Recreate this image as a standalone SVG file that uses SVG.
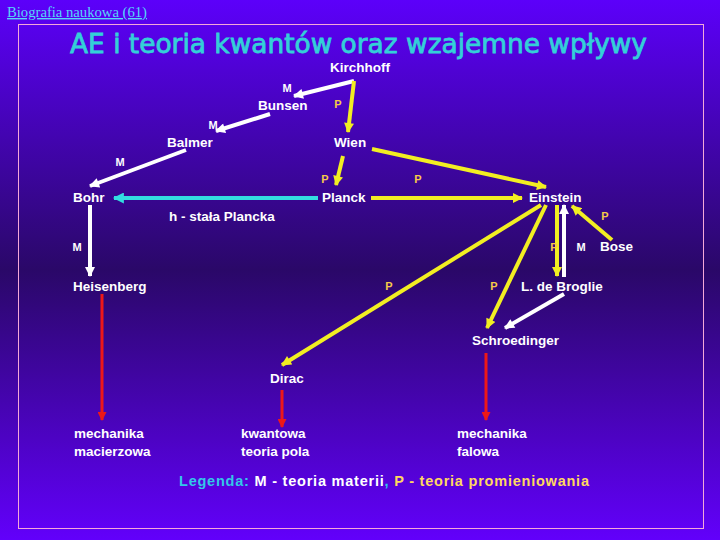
<svg xmlns="http://www.w3.org/2000/svg" width="720" height="540" viewBox="0 0 720 540">
<defs>
<linearGradient id="bg" x1="0" y1="0" x2="0" y2="1">
<stop offset="0" stop-color="#5c00fa"/>
<stop offset="0.5" stop-color="#2a0868"/>
<stop offset="1" stop-color="#6200fb"/>
</linearGradient>
<marker id="aw" viewBox="0 0 10 10" refX="9" refY="5" markerWidth="11" markerHeight="10" markerUnits="userSpaceOnUse" orient="auto"><path d="M0,0 L10,5 L0,10 z" fill="#ffffff"/></marker>
<marker id="ay" viewBox="0 0 10 10" refX="9" refY="5" markerWidth="11" markerHeight="10" markerUnits="userSpaceOnUse" orient="auto"><path d="M0,0 L10,5 L0,10 z" fill="#f2ee22"/></marker>
<marker id="ac" viewBox="0 0 10 10" refX="9" refY="5" markerWidth="12" markerHeight="11" markerUnits="userSpaceOnUse" orient="auto"><path d="M0,0 L10,5 L0,10 z" fill="#33dde0"/></marker>
<marker id="ar" viewBox="0 0 10 10" refX="9" refY="5" markerWidth="11" markerHeight="9" markerUnits="userSpaceOnUse" orient="auto"><path d="M0,0 L10,5 L0,10 z" fill="#ee1818"/></marker>
<style>
.n{font-family:"Liberation Sans",Arial,sans-serif;font-weight:bold;font-size:13.5px;fill:#ffffff}
.m{font-family:"Liberation Sans",Arial,sans-serif;font-weight:bold;font-size:11px;fill:#ffffff}
.p{font-family:"Liberation Sans",Arial,sans-serif;font-weight:bold;font-size:11px;fill:#f8c848}
.w{stroke:#ffffff;stroke-width:4;fill:none;marker-end:url(#aw)}
.y{stroke:#f2ee22;stroke-width:4;fill:none;marker-end:url(#ay)}
.c{stroke:#33dde0;stroke-width:4;fill:none;marker-end:url(#ac)}
.r{stroke:#ee1818;stroke-width:3;fill:none;marker-end:url(#ar)}
</style>
</defs>
<rect x="0" y="0" width="720" height="540" fill="url(#bg)"/>
<rect x="18.5" y="24.5" width="685" height="504" fill="none" stroke="#f4a8d8" stroke-width="1"/>
<text x="7" y="17" font-family="Liberation Serif,Times New Roman,serif" font-size="14" fill="#55d8f8" text-decoration="underline" textLength="140" lengthAdjust="spacingAndGlyphs">Biografia naukowa (61)</text>
<text x="70" y="53" font-family="DejaVu Sans,Verdana,sans-serif" font-size="26" fill="#33d0d8" stroke="#33d0d8" stroke-width="0.8" textLength="577" lengthAdjust="spacingAndGlyphs">AE i teoria kwantów oraz wzajemne wpływy</text>

<g id="connectors">
<line class="w" x1="354" y1="81" x2="294" y2="96"/>
<line class="y" x1="354" y1="81" x2="348" y2="132"/>
<line class="w" x1="270" y1="114" x2="216" y2="131"/>
<line class="w" x1="186" y1="150" x2="90" y2="186"/>
<line class="y" x1="343" y1="156" x2="336" y2="185"/>
<line class="y" x1="372" y1="149" x2="546" y2="187"/>
<line class="c" x1="318" y1="198" x2="114" y2="198"/>
<line class="y" x1="371" y1="198" x2="522" y2="198"/>
<line class="w" x1="90" y1="205" x2="90" y2="276"/>
<line class="y" x1="541" y1="205" x2="282" y2="365"/>
<line class="y" x1="546" y1="205" x2="487" y2="328"/>
<line class="y" x1="557" y1="205" x2="557" y2="276"/>
<line class="w" x1="564" y1="277" x2="564" y2="205"/>
<line class="y" x1="612" y1="240" x2="572" y2="206"/>
<line class="w" x1="564" y1="294" x2="505" y2="328"/>
<line class="r" x1="102" y1="294" x2="102" y2="420"/>
<line class="r" x1="282" y1="390" x2="282" y2="427"/>
<line class="r" x1="486" y1="353" x2="486" y2="420"/>
</g>

<g id="labels">
<text class="m" x="287" y="92" text-anchor="middle">M</text>
<text class="p" x="338" y="108" text-anchor="middle">P</text>
<text class="m" x="213" y="129" text-anchor="middle">M</text>
<text class="m" x="120" y="166" text-anchor="middle">M</text>
<text class="p" x="325" y="183" text-anchor="middle">P</text>
<text class="p" x="418" y="183" text-anchor="middle">P</text>
<text class="p" x="605" y="220" text-anchor="middle">P</text>
<text class="m" x="77" y="251" text-anchor="middle">M</text>
<text class="p" x="554" y="251" text-anchor="middle">P</text>
<text class="m" x="581" y="251" text-anchor="middle">M</text>
<text class="p" x="389" y="290" text-anchor="middle">P</text>
<text class="p" x="494" y="290" text-anchor="middle">P</text>
<text class="n" x="169" y="221">h - stała Plancka</text>
</g>

<g id="kirchhoff"><text class="n" x="330" y="72">Kirchhoff</text></g>
<g id="bunsen"><text class="n" x="258" y="110">Bunsen</text></g>
<g id="balmer"><text class="n" x="167" y="147">Balmer</text></g>
<g id="wien"><text class="n" x="334" y="147">Wien</text></g>
<g id="bohr"><text class="n" x="73" y="202">Bohr</text></g>
<g id="planck"><text class="n" x="322" y="202">Planck</text></g>
<g id="einstein"><text class="n" x="529" y="202">Einstein</text></g>
<g id="bose"><text class="n" x="600" y="251">Bose</text></g>
<g id="heisenberg"><text class="n" x="73" y="291">Heisenberg</text></g>
<g id="debroglie"><text class="n" x="521" y="291">L. de Broglie</text></g>
<g id="schroedinger"><text class="n" x="472" y="345">Schroedinger</text></g>
<g id="dirac"><text class="n" x="270" y="383">Dirac</text></g>
<g id="macierzowa"><text class="n" x="74" y="438">mechanika</text><text class="n" x="74" y="456">macierzowa</text></g>
<g id="kwantowa"><text class="n" x="241" y="438">kwantowa</text><text class="n" x="241" y="456">teoria pola</text></g>
<g id="falowa"><text class="n" x="457" y="438">mechanika</text><text class="n" x="457" y="456">falowa</text></g>

<g id="legend">
<text x="179" y="486" font-family="Liberation Sans,Arial,sans-serif" font-weight="bold" font-size="14.5" textLength="410" lengthAdjust="spacing"><tspan fill="#33c8e8">Legenda: </tspan><tspan fill="#ffffff">M - teoria materii</tspan><tspan fill="#33c8e8">, </tspan><tspan fill="#ffd860">P - teoria promieniowania</tspan></text>
</g>
</svg>
